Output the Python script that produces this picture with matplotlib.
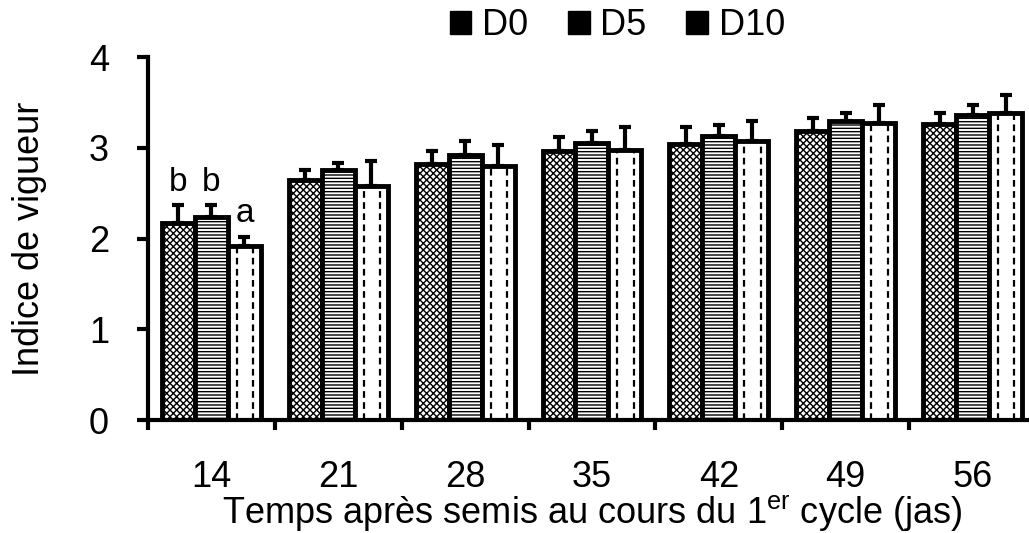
import numpy as np
import matplotlib.pyplot as plt
from matplotlib.patches import Patch

plt.rcParams['font.family'] = ['Liberation Sans', 'DejaVu Sans']
plt.rcParams['hatch.linewidth'] = 1.0

# data
days = ["14", "21", "28", "35", "42", "49", "56"]
series = ["D0", "D5", "D10"]
d0 = [2.17, 2.65, 2.82, 2.96, 3.04, 3.18, 3.26]
d5 = [2.24, 2.75, 2.92, 3.05, 3.13, 3.29, 3.36]
d10 = [1.92, 2.58, 2.80, 2.98, 3.08, 3.27, 3.38]
d0_err = [0.20, 0.10, 0.14, 0.16, 0.19, 0.15, 0.12]
d5_err = [0.13, 0.08, 0.15, 0.13, 0.12, 0.09, 0.11]
d10_err = [0.10, 0.27, 0.23, 0.25, 0.22, 0.20, 0.20]
letters = ["b", "b", "a"]  # only for the first date

fig = plt.figure(figsize=(10.29, 5.33), dpi=100)
ax = fig.add_axes([0.1438, 0.212, 0.863, 0.681])

x = np.arange(len(days))
w = 0.26
hatches = ["xxxxx", "-----", ""]
vals = [d0, d5, d10]
errs = [d0_err, d5_err, d10_err]

for i in range(3):
	xs = x + (i - 1) * w
	ax.bar(xs, vals[i], w, color="white", edgecolor="black", linewidth=3.5,
		hatch=hatches[i], zorder=2)
	ax.errorbar(xs, vals[i], yerr=[np.zeros(len(days)), errs[i]], fmt="none",
		ecolor="black", elinewidth=3, capsize=4.5, capthick=3, zorder=1)

# dashed vertical lines inside the D10 bars
xs10 = x + w
for frac in (0.27, 0.77):
	ax.vlines(xs10 - w / 2 + frac * w, 0, np.array(d10) - 0.03, colors="black",
		linewidth=1.6, linestyles=(0, (3, 2)), zorder=3)

# significance letters for 14 jas
for i in range(3):
	top = vals[i][0] + errs[i][0]
	ax.text(x[0] + (i - 1) * w, top + 0.08, letters[i], ha="center", va="bottom",
		fontsize=24)

ax.set_ylim(0, 4)
ax.set_xlim(-0.5, 6.5)
ax.set_yticks([0, 1, 2, 3, 4])
ax.set_xticks(np.arange(-0.5, 7, 1))
ax.set_xticklabels([])
ax.set_xticks(x, minor=True)
ax.set_xticklabels(days, minor=True)
ax.tick_params(axis="x", which="major", direction="out", length=7, width=3)
ax.tick_params(axis="x", which="minor", length=0, pad=29, labelsize=26)
ax.tick_params(axis="y", direction="out", length=8, width=3, pad=20, labelsize=26)

for s in ["top", "right"]:
	ax.spines[s].set_visible(False)
for s in ["left", "bottom"]:
	ax.spines[s].set_linewidth(3)

ax.set_ylabel("Indice de vigueur", fontsize=26, labelpad=30)
ax.set_xlabel("Temps après semis au cours du 1$^{\\mathregular{er}}$ cycle (jas)",
	fontsize=26, labelpad=-2)

handles = [Patch(facecolor="black", edgecolor="black", label=s) for s in series]
fig.legend(handles=handles, loc="center", bbox_to_anchor=(0.6, 0.952), ncol=3,
	frameon=False, fontsize=26, handlelength=0.6, handleheight=0.6,
	handletextpad=0.3, columnspacing=1.1)

fig.savefig("out.png", dpi=100)
